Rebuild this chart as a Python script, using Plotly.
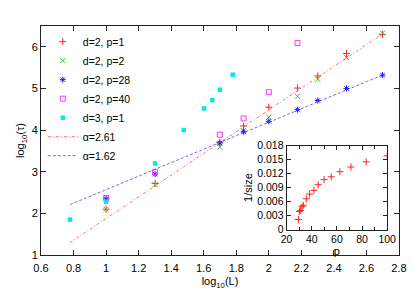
import numpy as np
import plotly.graph_objects as go

# ---- data ----
logL_d2 = [1.0, 1.301, 1.699, 1.845, 2.0, 2.176, 2.301, 2.477, 2.699]
tau_p1 = [2.10, 2.72, 3.71, 4.10, 4.55, 5.01, 5.30, 5.84, 6.30]
tau_p2 = [2.10, 2.69, 3.59, 3.99, 4.31, 4.81, 5.22, 5.74, 6.33]
tau_p28 = [2.35, 2.94, 3.69, 3.96, 4.21, 4.49, 4.71, 5.00, 5.32]
logL_p40 = [1.0, 1.301, 1.699, 1.845, 2.0, 2.176]
tau_p40 = [2.37, 2.99, 3.89, 4.28, 4.91, 6.09]
logL_d3 = [0.778, 1.0, 1.301, 1.477, 1.602, 1.653, 1.699, 1.778]
tau_d3 = [1.85, 2.28, 3.20, 4.00, 4.52, 4.72, 4.97, 5.33]

fit_alpha = [2.61, 1.62]
fit_intercept = [-0.735, 0.95]
fit_range = [0.778, 2.699]

inset_p = [29.4, 30.2, 31.2, 32.3, 33.3, 35.7, 38.3, 41.7, 45.1, 49.8, 55.5, 62.4, 71.2, 83.3, 100]
inset_inv = [0.00215, 0.0039, 0.0041, 0.0049, 0.0052, 0.0066, 0.0076, 0.0084, 0.0096,
             0.0107, 0.0113, 0.0124, 0.0134, 0.0145, 0.0158]

FONT = "Liberation Sans, Arial, sans-serif"
RED, GREEN, BLUE, MAG, CYAN = "#ff2020", "#33cc33", "#1a1aff", "#ff33ff", "#00e8f0"

fig = go.Figure()
fig.add_trace(go.Scatter(x=logL_d2, y=tau_p1, mode="markers", name="d=2, p=1",
                         marker=dict(symbol="cross-thin", color=RED, size=5, line=dict(color=RED, width=1))))
fig.add_trace(go.Scatter(x=logL_d2, y=tau_p2, mode="markers", name="d=2, p=2",
                         marker=dict(symbol="x-thin", color=GREEN, size=5, line=dict(color=GREEN, width=1))))
fig.add_trace(go.Scatter(x=logL_d2, y=tau_p28, mode="markers", name="d=2, p=28",
                         marker=dict(symbol="asterisk", color=BLUE, size=5, line=dict(color=BLUE, width=1))))
fig.add_trace(go.Scatter(x=logL_p40, y=tau_p40, mode="markers", name="d=2, p=40",
                         marker=dict(symbol="square-open", color=MAG, size=5, line=dict(color=MAG, width=1))))
fig.add_trace(go.Scatter(x=logL_d3, y=tau_d3, mode="markers", name="d=3, p=1",
                         marker=dict(symbol="square", color=CYAN, size=4.5, line=dict(width=0))))

fx = np.array(fit_range)
fig.add_trace(go.Scatter(x=fx, y=fit_alpha[0] * fx + fit_intercept[0], mode="lines",
                         name="α=2.61", line=dict(color="rgba(255,60,60,0.75)", width=1,
                                                  dash="3px,2px,1px,2px")))
fig.add_trace(go.Scatter(x=fx, y=fit_alpha[1] * fx + fit_intercept[1], mode="lines",
                         name="α=1.62", line=dict(color="rgba(60,60,255,0.75)", width=1,
                                                  dash="3px,2px")))

fig.add_trace(go.Scatter(x=inset_p, y=inset_inv, mode="markers", showlegend=False,
                         xaxis="x2", yaxis="y2",
                         marker=dict(symbol="cross-thin", color=RED, size=5, line=dict(color=RED, width=1))))

axis_common = dict(showgrid=False, zeroline=False, ticks="inside", mirror="ticks",
                   showline=True, linecolor="#222222", linewidth=1, tickcolor="#222222",
                   ticklen=5, tickfont=dict(family=FONT, size=11, color="black"))

inset_common = {**axis_common, "tickfont": dict(family=FONT, size=10.5, color="black"), "ticklen": 4}

fig.update_layout(
    width=415, height=291,
    margin=dict(l=28, r=24, t=12, b=44),
    paper_bgcolor="white", plot_bgcolor="white",
    font=dict(family=FONT, size=11, color="black"),
    xaxis=dict(range=[0.6, 2.8], dtick=0.2, tick0=0.6, domain=[0, 1],
               ticklabelstandoff=3,
               title=dict(text="log<sub>10</sub>(L)", font=dict(size=11), standoff=4),
               **axis_common),
    yaxis=dict(range=[1, 6.5], dtick=1, tick0=1, domain=[0, 1],
               title=dict(text="log<sub>10</sub>(τ)", font=dict(size=11), standoff=4),
               **axis_common),
    xaxis2=dict(range=[20, 100], dtick=20, tick0=20, anchor="y2", domain=[0.686, 0.967],
                minor=dict(dtick=10, ticks="inside", ticklen=3, tickcolor="#222222"),
                title=dict(text="p", font=dict(size=11), standoff=0),
                **inset_common),
    yaxis2=dict(range=[0, 0.018], dtick=0.003, tick0=0, anchor="x2", domain=[0.111, 0.478],
                tickformat=".3~f",
                title=dict(text="1/size", font=dict(size=11), standoff=2),
                **inset_common),
    legend=dict(x=0.005, y=0.995, xanchor="left", yanchor="top", bgcolor="rgba(0,0,0,0)",
                font=dict(family=FONT, size=10.5), itemwidth=30, tracegroupgap=0),
)

fig.write_html("out.html")
